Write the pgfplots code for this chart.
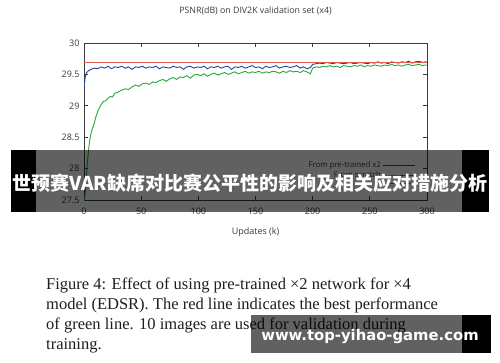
\documentclass[border=0pt]{standalone}
\usepackage{pgfplots}
\pgfplotsset{compat=1.18}
\usepackage{fontspec}
\setmainfont{Liberation Serif}
\setsansfont{Open Sans}
\newfontfamily\cjk{Noto Sans CJK SC}
\newfontfamily\wm{DejaVu Sans}
\definecolor{cblue}{RGB}{40,70,160}
\definecolor{cgreen}{RGB}{40,170,60}
\definecolor{cred}{RGB}{225,90,80}
\definecolor{axgray}{RGB}{60,60,60}
\begin{document}
\begin{tikzpicture}[x=1pt,y=1pt]
\fill[white] (0,0) rectangle (500,362);
\useasboundingbox (0,0) rectangle (500,362);
\begin{axis}[
  at={(84pt,162pt)}, anchor=south west,
  scale only axis, width=343pt, height=157pt,
  xmin=0, xmax=300, ymin=27.5, ymax=30,
  xtick={0,50,100,150,200,250,300},
  ytick={27.5,28,28.5,29,29.5,30},
  tick align=inside, major tick length=4pt,
  axis line style={axgray, line width=0.8pt},
  every tick/.style={axgray, line width=0.7pt},
  /pgf/number format/assume math mode=true,
  tick label style={font=\sffamily\fontsize{9}{10}\selectfont, text=axgray},
  yticklabel style={xshift=-1pt},
  xticklabel style={yshift=-4pt},
  title={PSNR(dB) on DIV2K validation set (x4)},
  title style={font=\sffamily\fontsize{8.8}{10}\selectfont, text=axgray, at={(0.5,1)}, anchor=center, yshift=26pt},
  xlabel={Updates (k)},
  xlabel style={font=\sffamily\fontsize{9}{10}\selectfont, text=axgray, at={(axis description cs:0.5,0)}, anchor=center, yshift=-32pt},
  legend style={at={(1,0)}, anchor=south east, xshift=-8pt, yshift=12pt, draw=none, fill=none,
    font=\sffamily\fontsize{7.8}{8}\selectfont, text=axgray, row sep=-1pt},
  legend cell align=right, legend plot pos=right,
  legend image code/.code={\draw[#1] (0pt,0pt) -- (32pt,0pt);},
]
\addplot[cblue, line width=0.9pt] coordinates {
(0,29.28)(1,29.45)(2,29.52)(4,29.56)(6,29.58)(9,29.60)(12,29.59)(15,29.62)(18,29.60)(21,29.63)
(24,29.59)(27,29.62)(30,29.61)(33,29.63)(36,29.60)(39,29.62)(42,29.58)(45,29.62)(48,29.61)(51,29.63)
(54,29.60)(57,29.62)(60,29.61)(63,29.63)(66,29.59)(69,29.62)(72,29.61)(75,29.60)(78,29.63)(81,29.61)
(84,29.62)(87,29.58)(90,29.62)(93,29.63)(96,29.60)(99,29.62)(102,29.61)(105,29.63)(108,29.59)(111,29.62)
(114,29.61)(117,29.63)(120,29.60)(123,29.62)(126,29.63)(129,29.58)(132,29.62)(135,29.61)(138,29.63)(141,29.60)
(144,29.62)(147,29.64)(150,29.61)(153,29.62)(156,29.59)(159,29.63)(162,29.61)(165,29.62)(168,29.64)(171,29.60)
(174,29.62)(177,29.63)(180,29.61)(183,29.62)(186,29.64)(189,29.60)(192,29.62)(195,29.59)(198,29.61)(200,29.66)
(203,29.67)(206,29.68)(209,29.67)(212,29.69)(215,29.68)(218,29.67)(221,29.69)(224,29.68)(227,29.67)(230,29.68)
(233,29.69)(236,29.67)(239,29.68)(242,29.69)(245,29.68)(248,29.67)(251,29.69)(254,29.68)(257,29.70)(260,29.68)
(263,29.69)(266,29.67)(269,29.70)(272,29.69)(275,29.68)(278,29.70)(281,29.69)(284,29.71)(287,29.68)(290,29.70)
(293,29.71)(296,29.69)(299,29.70)(300,29.69)
};
\addlegendentry{From pre-trained x2}
\addplot[cgreen, line width=0.9pt] coordinates {
(0,27.45)(1,27.6)(2,27.85)(3,28.1)(4,28.3)(5,28.45)(6,28.55)(7,28.62)(8,28.67)(9,28.72)
(10,28.8)(11,28.86)(13,28.95)(15,29.02)(17,29.07)(19,29.08)(21,29.12)(23,29.15)(25,29.14)(27,29.2)
(30,29.22)(33,29.25)(36,29.27)(39,29.26)(42,29.30)(45,29.33)(48,29.31)(51,29.35)(54,29.36)(57,29.34)
(60,29.38)(63,29.37)(66,29.40)(69,29.42)(72,29.39)(75,29.43)(78,29.45)(81,29.42)(84,29.46)(87,29.45)
(90,29.48)(93,29.44)(96,29.49)(99,29.50)(102,29.48)(105,29.51)(108,29.47)(111,29.50)(114,29.52)(117,29.49)
(120,29.51)(123,29.53)(126,29.50)(129,29.52)(132,29.54)(135,29.51)(138,29.53)(141,29.55)(144,29.52)(147,29.54)
(150,29.53)(153,29.55)(156,29.52)(159,29.54)(162,29.53)(165,29.55)(168,29.54)(171,29.52)(174,29.55)(177,29.53)
(180,29.56)(183,29.54)(186,29.55)(189,29.53)(192,29.56)(195,29.54)(198,29.51)(200,29.60)(203,29.62)(206,29.61)
(209,29.63)(212,29.62)(215,29.64)(218,29.62)(221,29.63)(224,29.61)(227,29.64)(230,29.63)(233,29.62)(236,29.64)
(239,29.63)(242,29.65)(245,29.62)(248,29.64)(251,29.63)(254,29.65)(257,29.64)(260,29.63)(263,29.65)(266,29.64)
(269,29.66)(272,29.64)(275,29.65)(278,29.63)(281,29.65)(284,29.66)(287,29.64)(290,29.65)(293,29.66)(296,29.64)
(299,29.65)(300,29.65)
};
\addlegendentry{From scratch}
\addplot[cred, line width=0.9pt] coordinates {(0,29.685)(300,29.685)};
\addlegendentry{}
\end{axis}
% caption
\begin{scope}[every node/.style={anchor=base west, inner sep=0pt, font=\fontsize{16.5}{18}\selectfont, text={rgb,255:red,30;green,30;blue,30}}]
\node at (46,73) {Figure 4: Effect of using pre-trained ×2 network for ×4};
\node at (46,53) {model (EDSR). The red line indicates the best performance};
\node at (46,33) {of green line. 10 images are used for validation during};
\node at (46,13) {training.};
\end{scope}
% banner
\fill[black, opacity=0.62] (36,150) rectangle (462,212);
\fill[black] (11,150) rectangle (36,212);
\fill[black] (462,150) rectangle (489,212);
\node[text=white, font=\cjk\bfseries\fontsize{19}{20}\selectfont, inner sep=0pt] at (250,179) {世预赛VAR缺席对比赛公平性的影响及相关应对措施分析};
% watermark
\fill[black, opacity=0.62] (251,9) rectangle (462,47);
\fill[black] (462,9) rectangle (491,47);
\node[text=white, font=\wm\bfseries\fontsize{14.8}{16}\selectfont, inner sep=0pt] at (370,26) {www.top-yihao-game.com};
\end{tikzpicture}
\end{document}
